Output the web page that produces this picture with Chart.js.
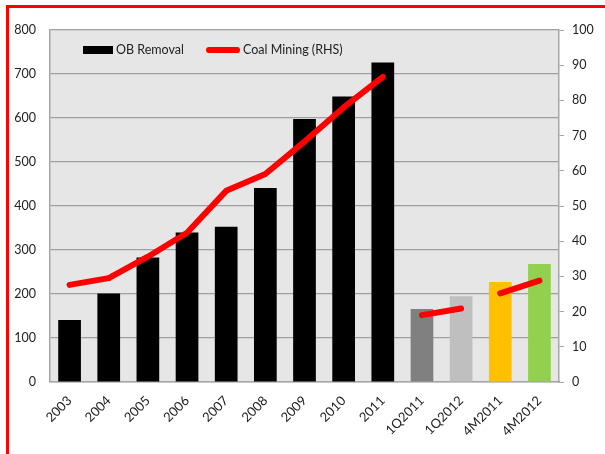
<!DOCTYPE html>
<html>
<head>
<meta charset="utf-8">
<script src="https://cdn.jsdelivr.net/npm/chart.js@4.4.1/dist/chart.umd.min.js"></script>
<style>
  html, body { margin: 0; padding: 0; background: #fff; }
  #wrap { position: relative; width: 605px; height: 454px; overflow: hidden; }
  #frame { position: absolute; left: 6px; top: 5px; right: -10px; bottom: -10px;
           border-top: 3px solid #ff0000; border-left: 3px solid #ff0000; pointer-events: none; }
  .legend { position: absolute; top: 42px; font: 12.5px Lato, "Open Sans", sans-serif; color: #222;
            display: flex; align-items: center; }
  .legend .sw { display: inline-block; margin-right: 3px; }
</style>
</head>
<body>
<div id="wrap">
  <canvas id="chart" width="605" height="454"></canvas>
  <div id="frame"></div>
  <div class="legend" style="left:83px"><span class="sw" style="width:30px;height:8px;background:#000"></span>OB Removal</div>
  <div class="legend" style="left:206px"><span class="sw" style="width:34px;height:6px;background:#ff0000;border-radius:3px"></span>Coal Mining (RHS)</div>
</div>
<script>
// data
const categories = ['2003', '2004', '2005', '2006', '2007', '2008', '2009', '2010', '2011',
  '1Q2011', '1Q2012', '4M2011', '4M2012'];
const obRemoval = [141, 201, 283, 340, 353, 441, 598, 649, 726, 166, 195, 227, 268];
const coalMining = [27.6, 29.5, 35.6, 42.4, 54.3, 59.1, 68.3, 78.0, 86.7, 19.0, 20.9, 25.2, 28.8];
const barColors = ['#000000', '#000000', '#000000', '#000000', '#000000', '#000000', '#000000',
  '#000000', '#000000', '#808080', '#bfbfbf', '#ffc000', '#92d050'];
// line is drawn in separate pieces (index ranges)
const lineSegments = [[0, 8], [9, 10], [11, 12]];

const font = { family: 'Lato, "Open Sans", sans-serif', size: 12.5 };
const tickColor = '#222';
const axisGray = '#a6a6a6';

// grey plot background
const plotBg = {
  id: 'plotBg',
  beforeDraw(chart) {
    const { ctx, chartArea: a } = chart;
    ctx.save();
    ctx.fillStyle = '#e6e6e6';
    ctx.fillRect(a.left, a.top, a.right - a.left, a.bottom - a.top);
    ctx.restore();
  }
};

const lineSets = lineSegments.map(([from, to]) => ({
  type: 'line',
  label: 'Coal Mining (RHS)',
  data: coalMining.map((v, i) => (i >= from && i <= to ? v : null)),
  yAxisID: 'y1',
  borderColor: '#ff0000',
  borderWidth: 6,
  borderCapStyle: 'round',
  borderJoinStyle: 'round',
  pointRadius: 0,
  tension: 0,
  spanGaps: false,
  order: 0
}));

new Chart(document.getElementById('chart').getContext('2d'), {
  data: {
    labels: categories,
    datasets: [
      {
        type: 'bar',
        label: 'OB Removal',
        data: obRemoval,
        backgroundColor: barColors,
        borderWidth: 0,
        categoryPercentage: 1,
        barPercentage: 0.58,
        yAxisID: 'y',
        order: 1
      },
      ...lineSets
    ]
  },
  options: {
    responsive: false,
    animation: false,
    layout: { padding: { top: 30, left: 0, right: 0, bottom: 0 } },
    plugins: { legend: { display: false }, tooltip: { enabled: false } },
    scales: {
      x: {
        grid: { display: false, drawTicks: false },
        border: { color: axisGray, width: 1.5 },
        ticks: { color: tickColor, font: { ...font, size: 13 }, maxRotation: 45, minRotation: 45, padding: 11 },
        afterFit: s => { s.height = 72; }
      },
      y: {
        position: 'left',
        min: 0, max: 800,
        grid: { color: '#a0a0a0', lineWidth: 1.2, drawTicks: false },
        border: { color: axisGray, width: 1.5 },
        ticks: { stepSize: 100, color: tickColor, font, padding: 14 },
        afterFit: s => { s.width = 50; }
      },
      y1: {
        position: 'right',
        min: 0, max: 100,
        grid: { drawOnChartArea: false, color: axisGray, tickLength: 5 },
        border: { color: axisGray, width: 1.5 },
        ticks: { stepSize: 10, color: tickColor, font, padding: 8 },
        afterFit: s => { s.width = 46; }
      }
    }
  },
  plugins: [plotBg]
});
</script>
</body>
</html>
